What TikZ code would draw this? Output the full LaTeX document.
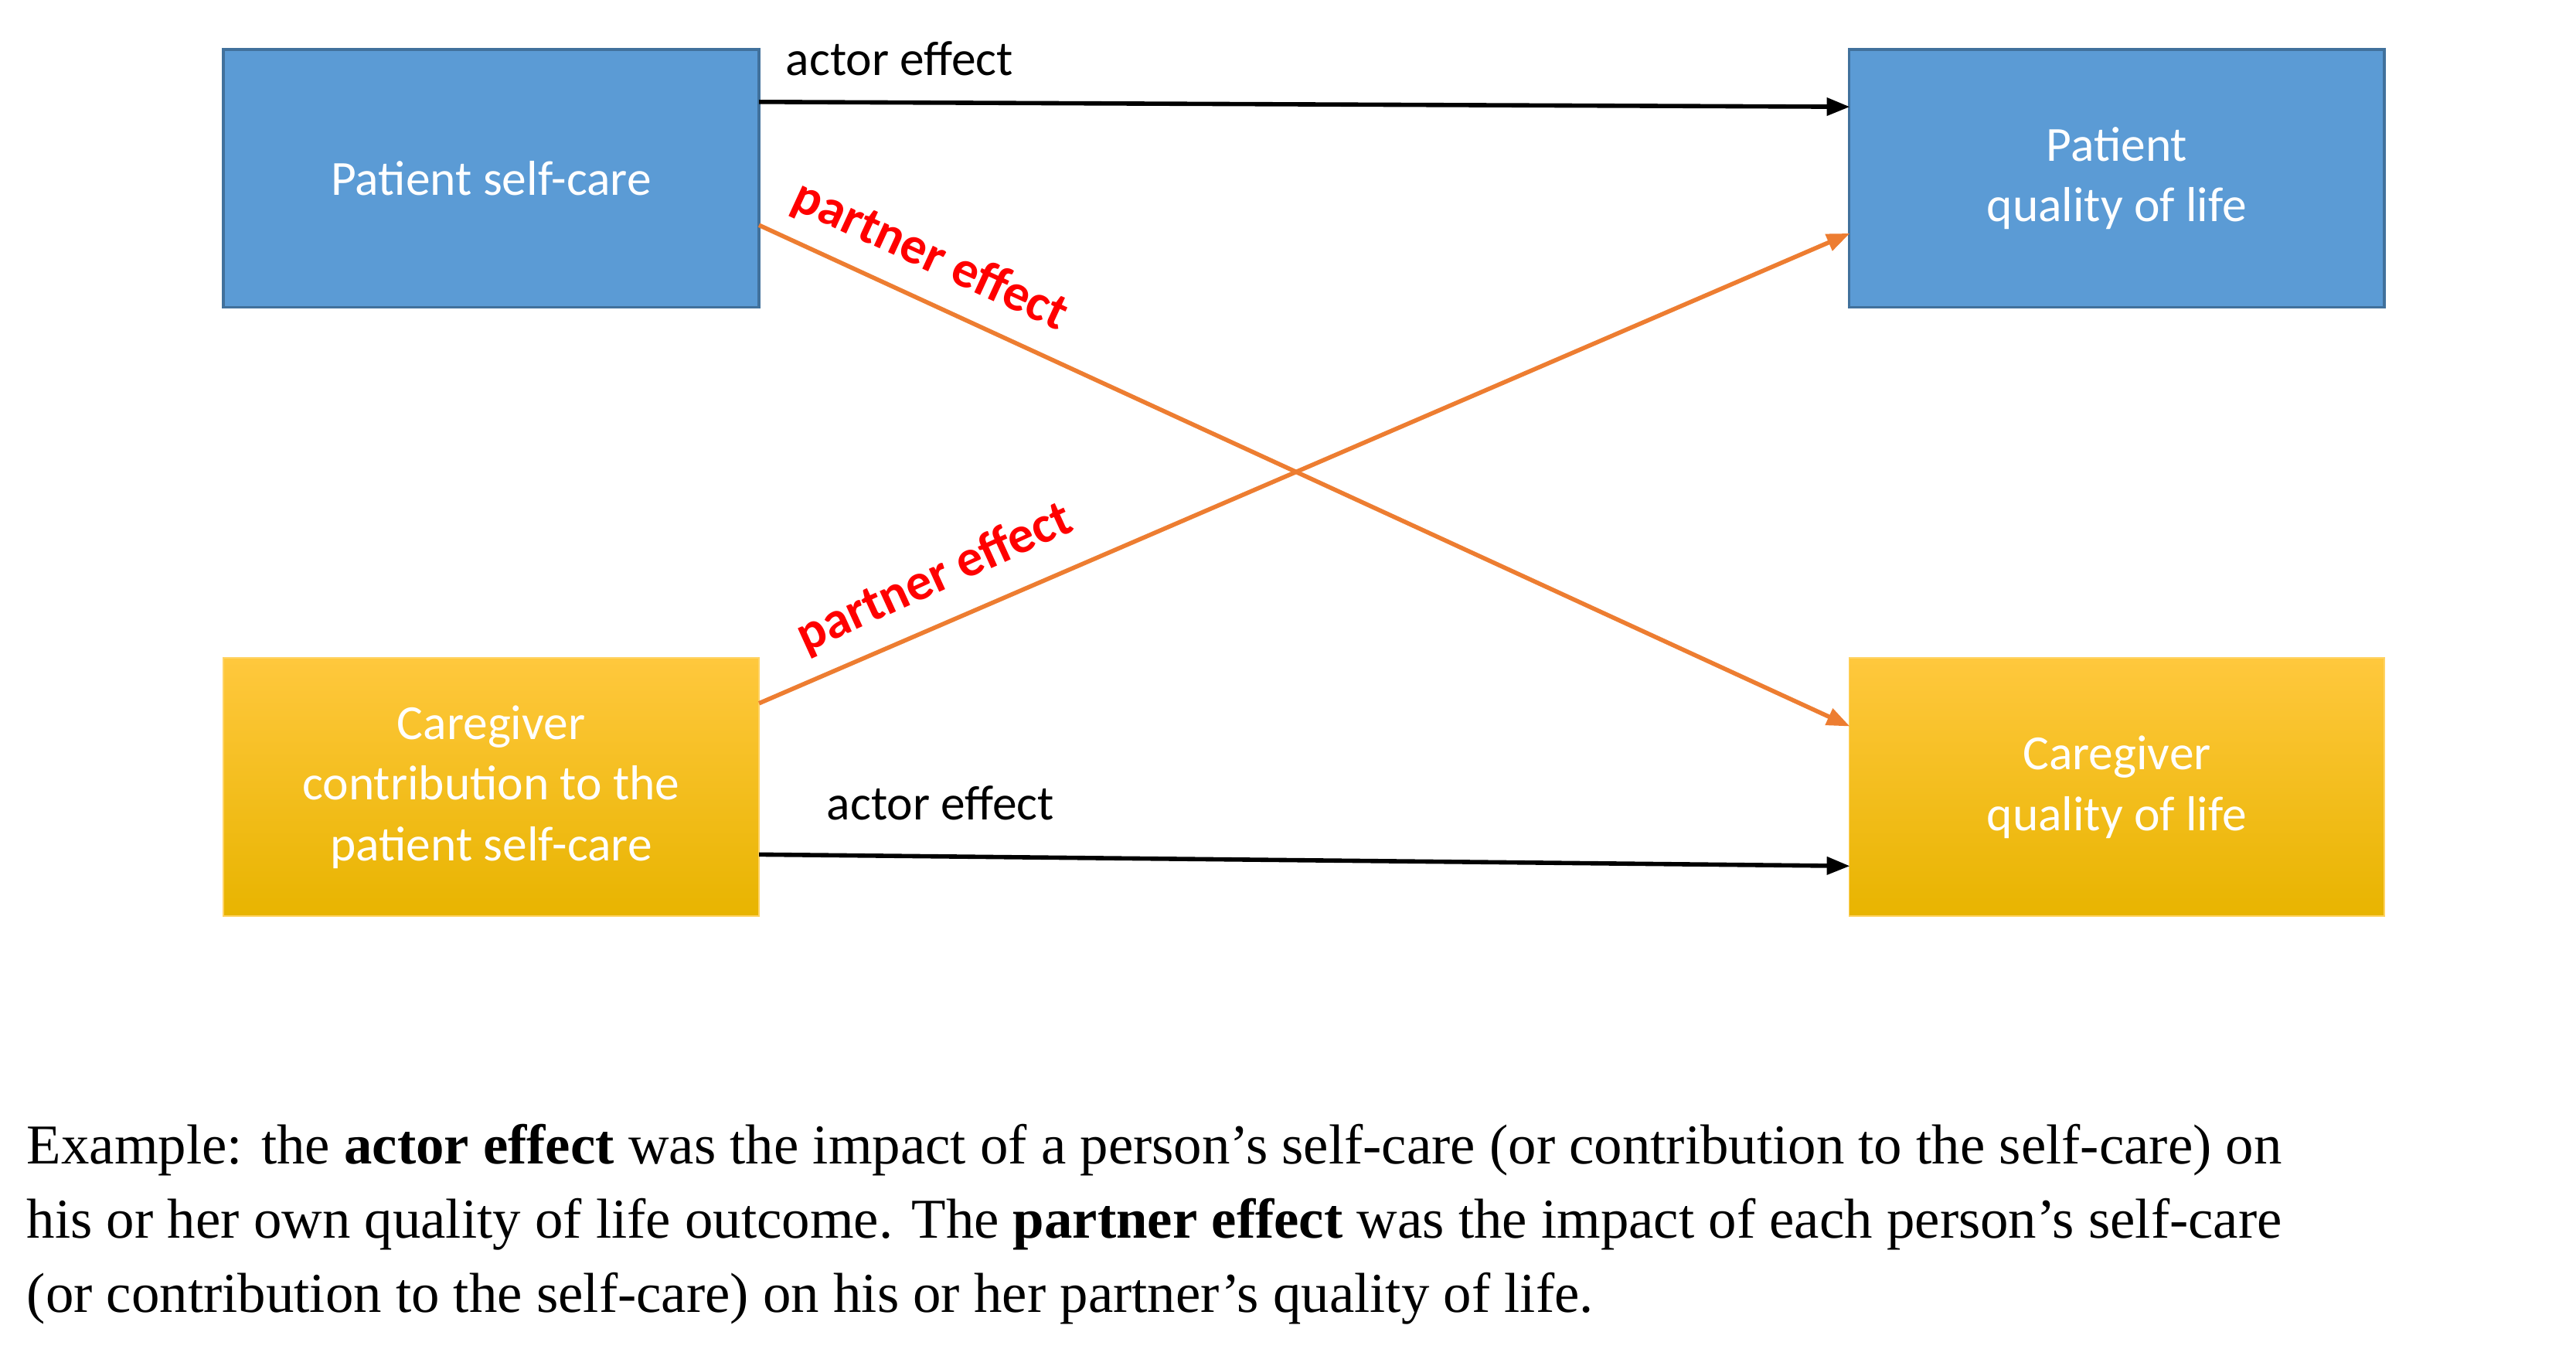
\documentclass[tikz,border=0pt]{standalone}
\usepackage{fontspec}
\setmainfont{Liberation Serif}
\newfontfamily\carl{Carlito}
\usetikzlibrary{arrows.meta}
\definecolor{bluebox}{HTML}{5B9BD5}
\definecolor{blueedge}{HTML}{41719C}
\definecolor{goldtop}{HTML}{FFC83D}
\definecolor{goldbot}{HTML}{E8B400}
\definecolor{orng}{HTML}{ED7D31}
\begin{document}
\begin{tikzpicture}[x=0.02cm,y=-0.02cm,
 box/.style={minimum width=6.52cm,minimum height=3.14cm,align=center,text=white,font=\carl\fontsize{17}{21}\selectfont,inner sep=0pt},
 bluebx/.style={box,fill=bluebox,draw=blueedge,line width=1pt},
 goldbx/.style={box,top color=goldtop,bottom color=goldbot,draw=goldtop!80!white,line width=0.5pt},
 actor/.style={-{Triangle[length=8pt,width=6pt]},line width=1.5pt,black},
 partner/.style={-{Triangle[length=8pt,width=6pt]},line width=1.5pt,orng},
 lbl/.style={font=\carl\fontsize{17}{20}\selectfont,inner sep=0pt},
 plbl/.style={font=\carl\bfseries\fontsize{18}{20}\selectfont,text=red,inner sep=0pt},
 captxt/.style={anchor=west,font=\fontsize{19.5}{24}\selectfont,inner sep=0pt}]
\useasboundingbox (0,0) rectangle (1568,820.5);
\node[bluebx] (psc) at (299,108.5) {Patient self-care};
\node[bluebx] (pql) at (1288.5,108.5) {Patient\\quality of life};
\node[goldbx] (cc) at (299,479) {Caregiver\\contribution to the\\patient self-care};
\node[goldbx] (cql) at (1288.5,479) {Caregiver\\quality of life};
\coordinate (a1) at (462,62); \coordinate (b1) at (1126,65);
\coordinate (a2) at (462,520); \coordinate (b2) at (1126,527);
\coordinate (a3) at (462,137); \coordinate (b3) at (1126,442);
\coordinate (a4) at (462,428); \coordinate (b4) at (1126,142);
\draw[actor] (a1) -- (b1);
\draw[actor] (a2) -- (b2);
\draw[partner] (a3) -- (b3);
\draw[partner] (a4) -- (b4);
\node[lbl,anchor=base west] (l1) at (478,46) {actor effect};
\node[lbl,anchor=base west] (l2) at (503,499) {actor effect};
\node[plbl,rotate=-24.7] (l3) at (566,156) {partner effect};
\node[plbl,rotate=24.5] (l4) at (569,352) {partner effect};
\node[captxt] (c1) at (16,700) {Example: the \textbf{actor effect} was the impact of a person’s self-care (or contribution to the self-care) on};
\node[captxt] (c2) at (16,745) {his or her own quality of life outcome. The \textbf{partner effect} was the impact of each person’s self-care};
\node[captxt] (c3) at (16,790) {(or contribution to the self-care) on his or her partner’s quality of life.};
\end{tikzpicture}
\end{document}
